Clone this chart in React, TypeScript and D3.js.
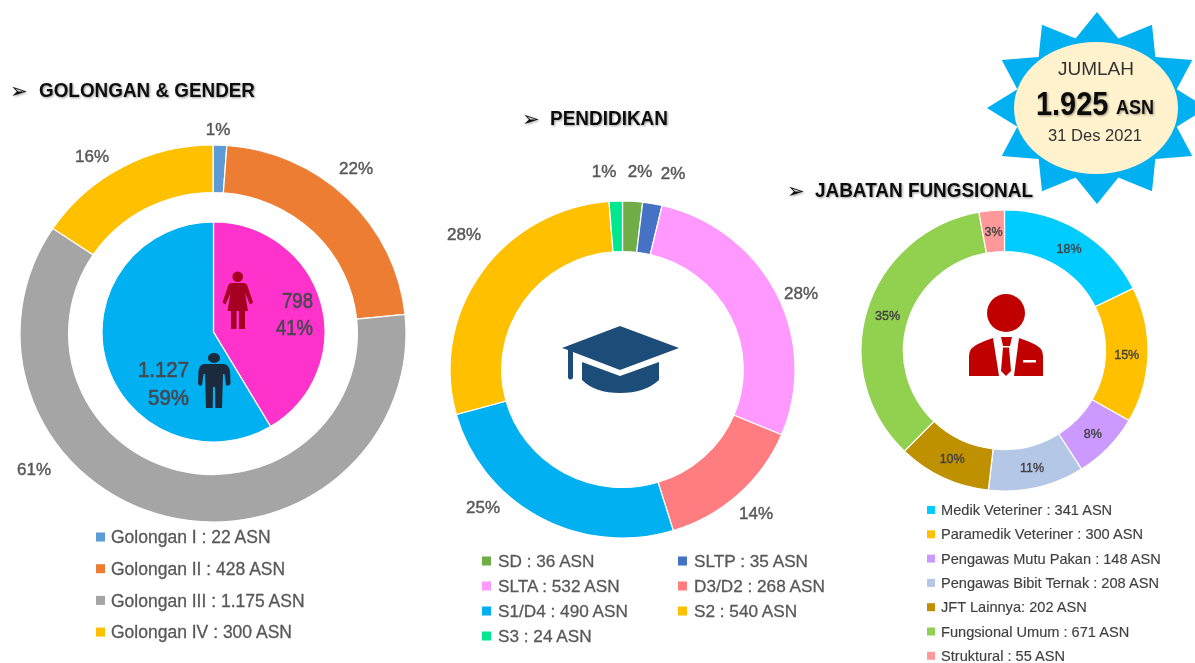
import React from "react";
import * as d3 from "d3";

const golonganLabels = ["Golongan I : 22 ASN", "Golongan II : 428 ASN", "Golongan III : 1.175 ASN", "Golongan IV : 300 ASN"];
const golonganValues = [22, 428, 1175, 300];
const golonganColors = ["#5B9BD5", "#ED7D31", "#A5A5A5", "#FFC000"];
const golonganPct = ["1%", "22%", "61%", "16%"];

const genderValues = [798, 1127];
const genderColors = ["#FF33CC", "#00B0F0"];

const pendidikanLabels = ["SD : 36 ASN", "SLTP : 35 ASN", "SLTA : 532 ASN", "D3/D2 : 268 ASN", "S1/D4 : 490 ASN", "S2 : 540 ASN", "S3 : 24 ASN"];
const pendidikanValues = [36, 35, 532, 268, 490, 540, 24];
const pendidikanColors = ["#70AD47", "#4472C4", "#FF99FF", "#FF7C80", "#00B0F0", "#FFC000", "#00E88F"];
const pendidikanPct = ["2%", "2%", "28%", "14%", "25%", "28%", "1%"];

const jabatanLabels = ["Medik Veteriner : 341 ASN", "Paramedik Veteriner : 300 ASN", "Pengawas Mutu Pakan : 148 ASN", "Pengawas Bibit Ternak : 208 ASN", "JFT Lainnya: 202 ASN", "Fungsional Umum : 671 ASN", "Struktural : 55 ASN"];
const jabatanValues = [341, 300, 148, 208, 202, 671, 55];
const jabatanColors = ["#00CCFF", "#FFC000", "#CC99FF", "#B4C7E7", "#BF9000", "#92D050", "#FF9999"];
const jabatanPct = ["18%", "15%", "8%", "11%", "10%", "35%", "3%"];

// layout of hand-placed outside labels (as in the source slide)
const golonganPctPos = [[218, 129], [356, 168], [34, 469], [92, 156]];
const pendidikanPctPos = [[640, 171], [673, 173], [801, 293], [756, 513], [483, 507], [464, 234], [604, 171]];

const TXT = "#595959";
const FONT = "'Liberation Sans', Arial, sans-serif";

type DonutProps = { values: number[]; colors: string[]; cx: number; cy: number; rx: number; ry: number; inner: number; sw?: number };

function Donut({ values, colors, cx, cy, rx, ry, inner, sw = 1.2 }: DonutProps) {
  const pie = d3.pie<number>().sort(null).value((d) => d);
  const arc = d3.arc<d3.PieArcDatum<number>>().innerRadius(inner).outerRadius(ry);
  return (
    <g transform={`translate(${cx},${cy}) scale(${rx / ry},1)`}>
      {pie(values).map((a, i) => (
        <path key={i} d={arc(a) || ""} fill={colors[i]} stroke="#fff" strokeWidth={sw} />
      ))}
    </g>
  );
}

function Legend({ items, colors, x, y, step, size, sw, tx, tc = TXT, thick = 0.3 }: any) {
  return (
    <g>
      {items.map((t: string, i: number) => (
        <g key={t}>
          <rect x={x} y={y + i * step - sw / 2} width={sw} height={sw} fill={colors[i]} />
          <text x={x + tx} y={y + i * step} dy="0.35em" fontSize={size} fill={tc} stroke={tc} strokeWidth={thick} fontFamily={FONT}>{t}</text>
        </g>
      ))}
    </g>
  );
}

function Heading({ x, y, ax, text, width }: any) {
  return (
    <g filter="url(#shadow)">
      <text x={ax} y={y + 1} fontSize={21} fill="#111" fontFamily="'DejaVu Sans'">➢</text>
      <text x={x} y={y} fontSize={20.5} fontWeight={700} fill="#111" fontFamily={FONT} textLength={width} lengthAdjust="spacingAndGlyphs">{text}</text>
    </g>
  );
}

function Star() {
  const cx = 1097, cy = 108, rx = 110, ry = 96, k = 0.75, n = 12;
  const angle = d3.scaleLinear().domain([0, 2 * n]).range([0, 2 * Math.PI]);
  const pts: [number, number][] = d3.range(2 * n).map((i) => {
    const a = angle(i);
    const f = i % 2 === 0 ? 1 : k;
    return [cx + rx * f * Math.sin(a), cy - ry * f * Math.cos(a)];
  });
  const line = d3.line().curve(d3.curveLinearClosed);
  return <path d={line(pts) || ""} fill="#00B0F0" />;
}

function CenterText({ x, y, w, children }: any) {
  return (
    <text x={x - w} y={y} fontFamily={FONT} fontSize={21.5} fill="#474750" stroke="#474750" strokeWidth={0.6} textLength={w} lengthAdjust="spacingAndGlyphs">{children}</text>
  );
}

export default function App() {
  const pie3 = d3.pie<number>().sort(null).value((d) => d)(jabatanValues);
  const j = { cx: 1004.5, cy: 350.5, rx: 143.5, ry: 140.5, inner: 99 };
  const arc3 = d3.arc<d3.PieArcDatum<number>>().innerRadius(99).outerRadius(140.5);
  const pctStyle = { fontSize: 17, fill: TXT, fontFamily: FONT, textAnchor: "middle" as const, stroke: TXT, strokeWidth: 0.45 };
  return (
    <svg width={1195} height={663} viewBox="0 0 1195 663" style={{ position: "absolute", left: 0, top: 0, background: "#fff" }}>
      <defs>
        <filter id="soft" x="0" y="0" width="100%" height="100%"><feGaussianBlur stdDeviation="0.55" /></filter>
        <filter id="shadow" x="-5%" y="-30%" width="110%" height="170%">
          <feDropShadow dx="1" dy="1" stdDeviation="0.8" floodColor="#000" floodOpacity="0.4" />
        </filter>
      </defs>
      <g filter="url(#soft)">
        <Star />
        <ellipse cx={1096} cy={108} rx={82} ry={66} fill="#FFF2CC" />
        <text x={1058} y={75} fontSize={19} fill="#333" fontFamily={FONT} textLength={76} lengthAdjust="spacingAndGlyphs">JUMLAH</text>
        <g filter="url(#shadow)" fontFamily={FONT} fontWeight={700} fill="#111">
          <text transform="translate(1036,115) scale(0.85,1)" fontSize={34}>1.925</text>
          <text transform="translate(1116,114) scale(0.9,1)" fontSize={20}>ASN</text>
        </g>
        <text x={1048} y={141} fontSize={16.5} fill="#333" fontFamily={FONT} textLength={94} lengthAdjust="spacingAndGlyphs">31 Des 2021</text>

        <Heading ax={10} x={39} y={97} width={216} text="GOLONGAN & GENDER" />
        <Heading ax={522} x={550} y={125} width={118} text="PENDIDIKAN" />
        <Heading ax={787} x={815} y={197} width={218} text="JABATAN FUNGSIONAL" />

        <Donut values={golonganValues} colors={golonganColors} cx={213} cy={333.5} rx={193} ry={188.5} inner={141} />
        <Donut values={genderValues} colors={genderColors} cx={213.5} cy={332} rx={111.5} ry={110} inner={0} />
        {golonganPct.map((t, i) => (
          <text key={i} x={golonganPctPos[i][0]} y={golonganPctPos[i][1]} dy="0.35em" {...pctStyle}>{t}</text>
        ))}
        <CenterText x={313} y={308} w={31}>798</CenterText>
        <CenterText x={313} y={335} w={37}>41%</CenterText>
        <CenterText x={189} y={377} w={51}>1.127</CenterText>
        <CenterText x={189} y={405} w={41}>59%</CenterText>
        {/* female */}
        <g fill="#A50021">
          <circle cx={237.7} cy={276.7} r={5.3} />
          <path d="M232 283 L243.5 283 Q246.5 283 247.5 286 L253 302.5 L250 304.5 L245 293 L248 311 L245 311 L245 329 L239 329 L239 311 L236.5 311 L236.5 329 L231 329 L231 311 L227.5 311 L230.5 293 L225.5 304.5 L222.5 302.5 L228 286 Q229 283 232 283 Z" />
        </g>
        {/* male */}
        <g fill="#1F2A3C">
          <ellipse cx={214} cy={358} rx={6} ry={5} />
          <path d="M204 364 L224 364 Q229 365 230 371 L230.5 384 Q228 387 226 385 L224.5 374 L223 374 L222 408 L215.3 408 L215 387 L213 387 L212.7 408 L206 408 L205 374 L203.5 374 L202 385 Q200 387 198 384 L198.5 371 Q199 365 204 364 Z" />
        </g>

        <Legend items={golonganLabels} colors={golonganColors} x={96} y={537} step={31.7} size={17.5} sw={9} tx={15} />

        <Donut values={pendidikanValues} colors={pendidikanColors} cx={622.5} cy={369.5} rx={172.5} ry={168.5} inner={118} />
        {pendidikanPct.map((t, i) => (
          <text key={i} x={pendidikanPctPos[i][0]} y={pendidikanPctPos[i][1]} dy="0.35em" {...pctStyle}>{t}</text>
        ))}
        <g fill="#1F4E79">
          <path d="M620 326 L679 348 L620 370 L573 352 L573 378 Q570.5 381 568 378 L568 350 L562 348 Z" />
          <path d="M582 362 L620 376 L659 362 L659 380 Q645 393 620 393 Q595 393 582 380 Z" />
        </g>
        <Legend items={pendidikanLabels.filter((_, i) => i % 2 === 0)} colors={pendidikanColors.filter((_, i) => i % 2 === 0)} x={482} y={561} step={25} size={17.2} sw={9} tx={16} />
        <Legend items={pendidikanLabels.filter((_, i) => i % 2 === 1)} colors={pendidikanColors.filter((_, i) => i % 2 === 1)} x={678} y={561} step={25} size={17.2} sw={9} tx={16} />

        <Donut values={jabatanValues} colors={jabatanColors} cx={j.cx} cy={j.cy} rx={j.rx} ry={j.ry} inner={j.inner} />
        {pie3.map((a, i) => {
          const [x, y] = arc3.centroid(a);
          return <text key={i} x={j.cx + x * (j.rx / j.ry)} y={j.cy + y} dy="0.35em" fontSize={12.5} textAnchor="middle" fill="#404040" stroke="#404040" strokeWidth={0.35} fontFamily={FONT}>{jabatanPct[i]}</text>;
        })}
        <g fill="#C00000">
          <circle cx={1006} cy={313} r={19} />
          <path d="M993 338 Q975 344 971 349 Q969 352 969 356 L969 376 L999 376 Z" />
          <path d="M1019 338 Q1037 344 1041 349 Q1043 352 1043 356 L1043 376 L1014 376 Z" />
          <path d="M1001 337 L1012 337 L1010 346 L1003 346 Z" />
          <path d="M1003 347.5 L1009 347.5 L1011 371 L1006 376 L1001 371 Z" />
        </g>
        <rect x={1023} y={360} width={13} height={2.5} fill="#fff" />
        <Legend items={jabatanLabels} colors={jabatanColors} x={927} y={510} step={24.3} size={14.6} sw={8} tx={14} tc="#404040" thick={0.15} />
      </g>
    </svg>
  );
}
